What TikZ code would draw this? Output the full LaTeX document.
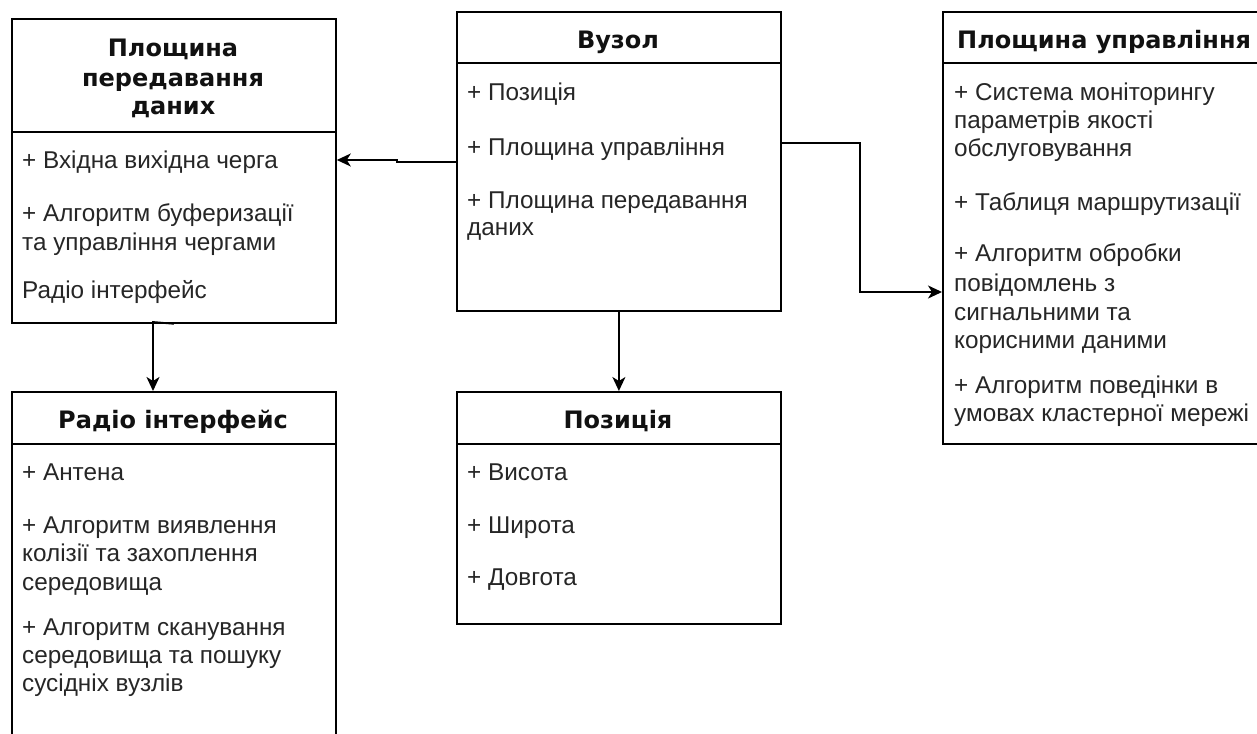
\documentclass[tikz,border=0pt]{standalone}
\usepackage{fontspec}
\setmainfont{Liberation Sans}
\newfontfamily\titlefont{DejaVu Sans}
\usetikzlibrary{arrows.meta}
\definecolor{bodygray}{HTML}{262626}
\definecolor{titleblack}{HTML}{111111}
\tikzset{
  umlbox/.style={draw=black, line width=1.8pt, rectangle, anchor=north west, inner sep=0pt, fill=white},
  divider/.style={line width=1.8pt},
  item/.style={anchor=west, inner sep=0pt, text height=17.4pt, text depth=0pt, text=bodygray, font=\fontsize{24.3}{28}\selectfont},
  ttl/.style={anchor=center, inner sep=0pt, text height=17.5pt, text depth=0pt, text=titleblack, font=\titlefont\bfseries\fontsize{24}{28}\selectfont},
  conn/.style={line width=1.8pt, -{Stealth[length=14pt,width=13pt,inset=4pt]}}
}
\begin{document}
\begin{tikzpicture}[x=1pt,y=-1pt]
\useasboundingbox (0,0) rectangle (1257,733);
\clip (0,0) rectangle (1257,733);
\fill[white] (0,0) rectangle (1257,733);

% boxes
\node[umlbox, minimum width=324pt, minimum height=304pt] (pd) at (11,18) {};
\node[umlbox, minimum width=324pt, minimum height=299pt] (vz) at (456,11) {};
\node[umlbox, minimum width=330pt, minimum height=432pt] (pu) at (942,11) {};
\node[umlbox, minimum width=324pt, minimum height=380pt] (ri) at (11,391) {};
\node[umlbox, minimum width=324pt, minimum height=232pt] (poz) at (456,391) {};

% dividers
\draw[divider] (pd.west |- 0,132) -- (pd.east |- 0,132);
\draw[divider] (vz.west |- 0,63) -- (vz.east |- 0,63);
\draw[divider] (pu.west |- 0,63) -- (pu.east |- 0,63);
\draw[divider] (ri.west |- 0,444) -- (ri.east |- 0,444);
\draw[divider] (poz.west |- 0,444) -- (poz.east |- 0,444);

% titles
\node[ttl] (pdt1) at (173,48) {Площина};
\node[ttl] (pdt2) at (173,78) {передавання};
\node[ttl] (pdt3) at (173,106) {даних};
\node[ttl] (vzt) at (618,40) {Вузол};
\node[ttl, anchor=west] (put) at (957,40) {Площина управління};
\node[ttl] (rit) at (173,420) {Радіо інтерфейс};
\node[ttl] (pozt) at (618,420) {Позиція};

% items: Площина передавання даних
\node[item] (pd1) at (22,160) {+ Вхідна вихідна черга};
\node[item] (pd2a) at (22,213) {+ Алгоритм буферизації};
\node[item] (pd2b) at (22,242) {та управління чергами};
\node[item] (pd3) at (22,290) {Радіо інтерфейс};

% items: Вузол
\node[item] (vz1) at (467,92) {+ Позиція};
\node[item] (vz2) at (467,147) {+ Площина управління};
\node[item] (vz3a) at (467,200) {+ Площина передавання};
\node[item] (vz3b) at (467,227) {даних};

% items: Площина управління
\node[item] (pu1a) at (954,92) {+ Система моніторингу};
\node[item] (pu1b) at (954,120) {параметрів якості};
\node[item] (pu1c) at (954,148) {обслуговування};
\node[item] (pu2) at (954,202) {+ Таблиця маршрутизації};
\node[item] (pu3a) at (954,253) {+ Алгоритм обробки};
\node[item] (pu3b) at (954,283) {повідомлень з};
\node[item] (pu3c) at (954,312) {сигнальними та};
\node[item] (pu3d) at (954,340) {корисними даними};
\node[item] (pu4a) at (954,385) {+ Алгоритм поведінки в};
\node[item] (pu4b) at (954,413) {умовах кластерної мережі};

% items: Радіо інтерфейс
\node[item] (ri1) at (22,472) {+ Антена};
\node[item] (ri2a) at (22,525) {+ Алгоритм виявлення};
\node[item] (ri2b) at (22,553) {колізії та захоплення};
\node[item] (ri2c) at (22,582) {середовища};
\node[item] (ri3a) at (22,627) {+ Алгоритм сканування};
\node[item] (ri3b) at (22,655) {середовища та пошуку};
\node[item] (ri3c) at (22,683) {сусідніх вузлів};

% items: Позиція
\node[item] (poz1) at (467,472) {+ Висота};
\node[item] (poz2) at (467,525) {+ Широта};
\node[item] (poz3) at (467,577) {+ Довгота};

% connectors
\draw[conn] (vz.west |- 0,162) -- (397,162) -- (397,160) -- (pd.east |- 0,160);
\draw[conn] (vz.east |- 0,143) -- (860,143) -- (860,292) -- (pu.west |- 0,292);
\draw[conn] (pd.south) -- (153,322) -- (153,0 |- ri.north);
\draw[conn] (vz.south) -- (poz.north);
\end{tikzpicture}
\end{document}
